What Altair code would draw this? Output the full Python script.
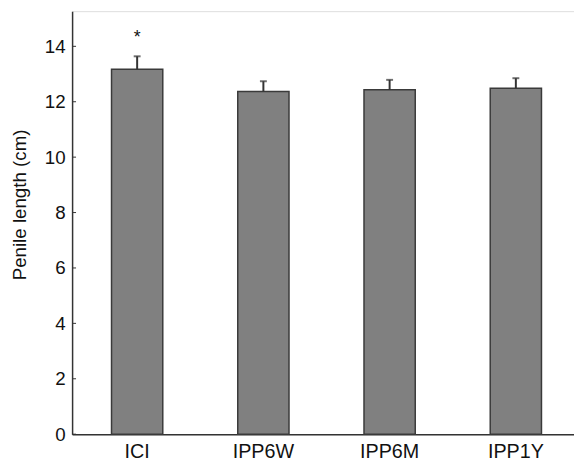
import altair as alt
import pandas as pd

groups = ["ICI", "IPP6W", "IPP6M", "IPP1Y"]
means = [13.17, 12.37, 12.43, 12.49]
errors = [0.47, 0.37, 0.36, 0.36]
stars = ["*", "", "", ""]
y_ticks = [0, 2, 4, 6, 8, 10, 12, 14]

df = pd.DataFrame({"group": groups, "mean": means, "err": errors, "star": stars})
df["upper"] = df["mean"] + df["err"]
ticks_df = pd.DataFrame({"t": y_ticks})

FONT = "Liberation Sans"
DARK = "#333333"

xscale = alt.Scale(domain=groups, paddingInner=0.594, paddingOuter=0.285, align=0.548)
yscale = alt.Scale(domain=[0, 15.27], nice=False, zero=True)

x_enc = alt.X("group:N", scale=xscale, sort=groups,
              axis=alt.Axis(title=None, labelAngle=0, ticks=False, labelPadding=8,
                            labelFontSize=20, labelFont=FONT, labelColor="#111111",
                            domainColor=DARK, domainWidth=1.5))
y_enc = alt.Y("mean:Q", scale=yscale,
              axis=alt.Axis(title="Penile length (cm)", values=y_ticks, ticks=False,
                            labelPadding=7, labelFontSize=19, labelFont=FONT,
                            labelColor="#111111", grid=False,
                            titleFont=FONT, titleFontSize=19, titleFontWeight="normal",
                            titleColor="#111111", titleX=-53, titleY=196,
                            titleBaseline="middle", titleAlign="center",
                            domainColor=DARK, domainWidth=1.5))

bars = alt.Chart(df).mark_bar(color="#808080", stroke="#3a3a3a", strokeWidth=1.5).encode(
    x=x_enc, y=y_enc)

err_rule = alt.Chart(df).mark_rule(color="#333333", strokeWidth=2).encode(
    x=alt.X("group:N", scale=xscale, sort=groups),
    y=alt.Y("mean:Q", scale=yscale),
    y2="upper:Q")

caps = alt.Chart(df).mark_tick(color="#333333", thickness=2, size=7).encode(
    x=alt.X("group:N", scale=xscale, sort=groups),
    y=alt.Y("upper:Q", scale=yscale))

star_text = alt.Chart(df).mark_text(font=FONT, fontSize=18, baseline="alphabetic",
                                    dy=-14, color="#111111").encode(
    x=alt.X("group:N", scale=xscale, sort=groups),
    y=alt.Y("upper:Q", scale=yscale),
    text="star:N")

inner_ticks = alt.Chart(ticks_df).mark_rule(color=DARK, strokeWidth=1).encode(
    y=alt.Y("t:Q", scale=yscale),
    x=alt.value(0), x2=alt.value(4))

chart = alt.layer(bars, err_rule, caps, star_text, inner_ticks).properties(
    width=509, height=429,
    autosize=alt.AutoSizeParams(type="none"),
    padding={"left": 65, "top": 0, "right": 0, "bottom": 24},
).configure_view(stroke=None).configure(background="white")

chart.save("out.html", embed_options={"renderer": "svg", "actions": False})
